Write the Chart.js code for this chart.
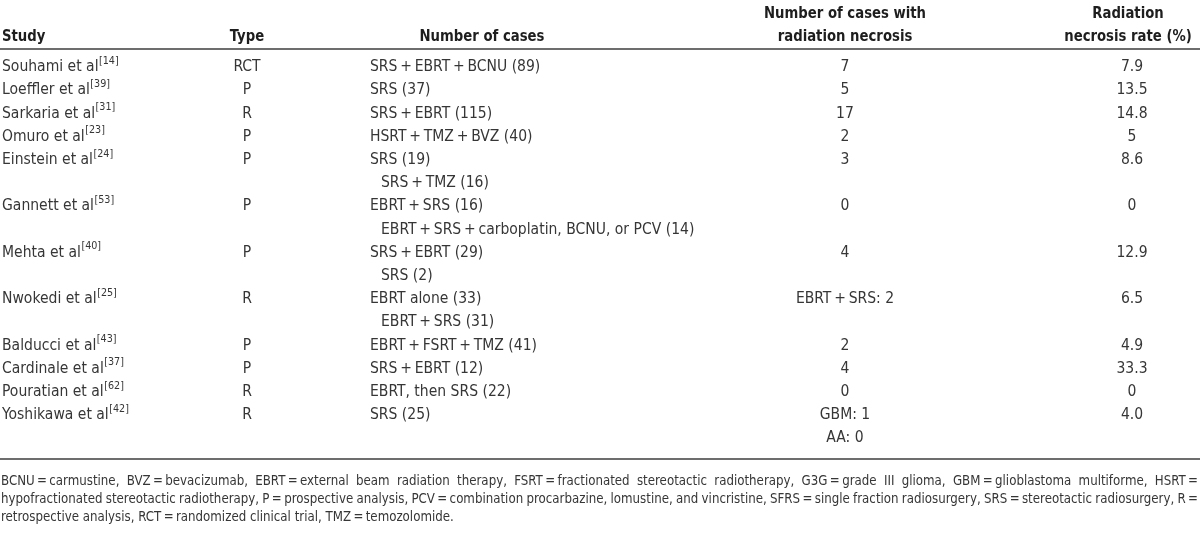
<!DOCTYPE html>
<html>
<head>
<meta charset="utf-8">
<script src="https://cdn.jsdelivr.net/npm/chart.js@4.4.1/dist/chart.umd.min.js"></script>
<style>
    html, body { margin: 0; padding: 0; background: #fff; }
    #wrap { width: 1200px; height: 533px; }
</style>
</head>
<body>
<div id="wrap"><canvas id="tabla" width="1200" height="533"></canvas></div>
<script>
const studies = ['Souhami et al', 'Loeffler et al', 'Sarkaria et al', 'Omuro et al', 'Einstein et al', 'Gannett et al',
    'Mehta et al', 'Nwokedi et al', 'Balducci et al', 'Cardinale et al', 'Pouratian et al', 'Yoshikawa et al'];
const refs = ['14', '39', '31', '23', '24', '53', '40', '25', '43', '37', '62', '42'];
const types = ['RCT', 'P', 'R', 'P', 'P', 'P', 'P', 'R', 'P', 'P', 'R', 'R'];
const cases = [
    ['SRS\u2009+\u2009EBRT\u2009+\u2009BCNU (89)'],
    ['SRS (37)'],
    ['SRS\u2009+\u2009EBRT (115)'],
    ['HSRT\u2009+\u2009TMZ\u2009+\u2009BVZ (40)'],
    ['SRS (19)', 'SRS\u2009+\u2009TMZ (16)'],
    ['EBRT\u2009+\u2009SRS (16)', 'EBRT\u2009+\u2009SRS\u2009+\u2009carboplatin, BCNU, or PCV (14)'],
    ['SRS\u2009+\u2009EBRT (29)', 'SRS (2)'],
    ['EBRT alone (33)', 'EBRT\u2009+\u2009SRS (31)'],
    ['EBRT\u2009+\u2009FSRT\u2009+\u2009TMZ (41)'],
    ['SRS\u2009+\u2009EBRT (12)'],
    ['EBRT, then SRS (22)'],
    ['SRS (25)']
];
const necrosisCases = [['7'], ['5'], ['17'], ['2'], ['3'], ['0'], ['4'], ['EBRT\u2009+\u2009SRS: 2'], ['2'], ['4'], ['0'], ['GBM: 1', 'AA: 0']];
const necrosisRate = ['7.9', '13.5', '14.8', '5', '8.6', '0', '12.9', '6.5', '4.9', '33.3', '0', '4.0'];

const headers = [
    ['', 'Study'],
    ['', 'Type'],
    ['', 'Number of cases'],
    ['Number of cases with', 'radiation necrosis'],
    ['Radiation', 'necrosis rate (%)']
];
const footnote = [
    'BCNU\u2009=\u2009carmustine, BVZ\u2009=\u2009bevacizumab, EBRT\u2009=\u2009external beam radiation therapy, FSRT\u2009=\u2009fractionated stereotactic radiotherapy, G3G\u2009=\u2009grade III glioma, GBM\u2009=\u2009glioblastoma multiforme, HSRT\u2009=',
    'hypofractionated stereotactic radiotherapy, P\u2009=\u2009prospective analysis, PCV\u2009=\u2009combination procarbazine, lomustine, and vincristine, SFRS\u2009=\u2009single fraction radiosurgery, SRS\u2009=\u2009stereotactic radiosurgery, R\u2009=',
    'retrospective analysis, RCT\u2009=\u2009randomized clinical trial, TMZ\u2009=\u2009temozolomide.'
];

// layout (pixel units of the hidden axes)
const FONT = '"DejaVu Sans Condensed", "Liberation Sans Narrow", sans-serif';
const colX = [2, 247, 370, 845, 1132];
const headX = [2, 247, 482, 845, 1128];
const headY = [14, 37];
const ruleTop = 49;
const ruleBottom = 459;
const firstLine = 67;
const pitch = 23.2;
const footY = [481, 499, 517];
const indent = 11;

function lineY(i) {
    return firstLine + i * pitch;
}

// flatten rows into text points
const ptsStudy = [], ptsType = [], ptsCases = [], ptsNec = [], ptsRate = [];
let linea = 0;
studies.forEach((s, i) => {
    ptsStudy.push({ x: colX[0], y: lineY(linea), t: s, sup: refs[i] });
    ptsType.push({ x: colX[1], y: lineY(linea), t: types[i] });
    cases[i].forEach((c, k) => ptsCases.push({ x: colX[2] + (k > 0 ? indent : 0), y: lineY(linea + k), t: c }));
    necrosisCases[i].forEach((c, k) => ptsNec.push({ x: colX[3], y: lineY(linea + k), t: c }));
    ptsRate.push({ x: colX[4], y: lineY(linea), t: necrosisRate[i] });
    linea += Math.max(cases[i].length, necrosisCases[i].length);
});

const ptsHead = [];
headers.forEach((h, i) => {
    h.forEach((t, k) => { if (t) ptsHead.push({ x: headX[i], y: headY[k], t: t, left: i === 0 }); });
});
const ptsFoot = footnote.map((t, k) => ({ x: 1, y: footY[k], t: t, justify: k < footnote.length - 1 }));

const FOOT_SX = 0.94;

// text squeezed horizontally by sx
function texto(ctx, t, x, y, align, sx) {
    ctx.save();
    ctx.translate(x, y);
    ctx.scale(sx, 1);
    ctx.textAlign = align;
    ctx.fillText(t, 0, 0);
    ctx.restore();
}

function drawJustified(ctx, text, x, y, width) {
    const words = text.split(' ');
    let total = 0;
    words.forEach(w => total += ctx.measureText(w).width * FOOT_SX);
    const gap = (width - total) / (words.length - 1);
    let cx = x;
    words.forEach(w => {
        texto(ctx, w, cx, y, 'left', FOOT_SX);
        cx += ctx.measureText(w).width * FOOT_SX + gap;
    });
}

const textoPlugin = {
    id: 'textoTabla',
    afterDatasetsDraw(chart) {
        const ctx = chart.ctx;
        const xs = chart.scales.x, ys = chart.scales.y;
        ctx.save();
        // rules
        ctx.strokeStyle = '#3c3c3c';
        ctx.lineWidth = 1.6;
        [ruleTop, ruleBottom].forEach(r => {
            const py = ys.getPixelForValue(r);
            ctx.beginPath();
            ctx.moveTo(xs.getPixelForValue(0), py);
            ctx.lineTo(xs.getPixelForValue(1200), py);
            ctx.stroke();
        });
        ctx.textBaseline = 'middle';
        chart.data.datasets.forEach((ds, di) => {
            const meta = chart.getDatasetMeta(di);
            meta.data.forEach((el, j) => {
                const p = ds.data[j];
                ctx.font = ds.fuente;
                ctx.fillStyle = ds.color;
                if (ds.tipo === 'foot') {
                    if (p.justify) drawJustified(ctx, p.t, el.x, el.y, xs.getPixelForValue(1198) - el.x);
                    else texto(ctx, p.t, el.x, el.y, 'left', FOOT_SX);
                    return;
                }
                const align = (ds.align === 'left' || p.left) ? 'left' : 'center';
                texto(ctx, p.t, el.x, el.y, align, ds.sx);
                if (p.sup) {
                    const w = ctx.measureText(p.t).width * ds.sx;
                    ctx.font = '11px ' + FONT;
                    texto(ctx, '[' + p.sup + ']', el.x + w + 0.5, el.y - 6, 'left', ds.sx);
                }
            });
        });
        ctx.restore();
    }
};

const bodyFont = '16px ' + FONT;
function ds(data, align, fuente, color, tipo, sx) {
    return { data: data, align: align, fuente: fuente, color: color, tipo: tipo, sx: sx || 1,
        pointRadius: 0, pointHoverRadius: 0, showLine: false };
}

new Chart(document.getElementById('tabla'), {
    type: 'scatter',
    data: {
        datasets: [
            ds(ptsHead, 'center', 'bold 16px ' + FONT, '#1e1e1e', 'head', 0.92),
            ds(ptsStudy, 'left', bodyFont, '#363636', 'cell', 0.97),
            ds(ptsType, 'center', bodyFont, '#363636', 'cell', 0.97),
            ds(ptsCases, 'left', bodyFont, '#363636', 'cell', 0.97),
            ds(ptsNec, 'center', bodyFont, '#363636', 'cell', 0.97),
            ds(ptsRate, 'center', bodyFont, '#363636', 'cell', 0.97),
            ds(ptsFoot, 'left', '14px ' + FONT, '#363636', 'foot', FOOT_SX)
        ]
    },
    options: {
        responsive: false,
        animation: false,
        events: [],
        layout: { padding: 0 },
        plugins: { legend: { display: false }, tooltip: { enabled: false } },
        scales: {
            x: { type: 'linear', min: 0, max: 1200, display: false },
            y: { type: 'linear', min: 0, max: 533, reverse: true, display: false }
        }
    },
    plugins: [textoPlugin]
});
</script>
</body>
</html>
